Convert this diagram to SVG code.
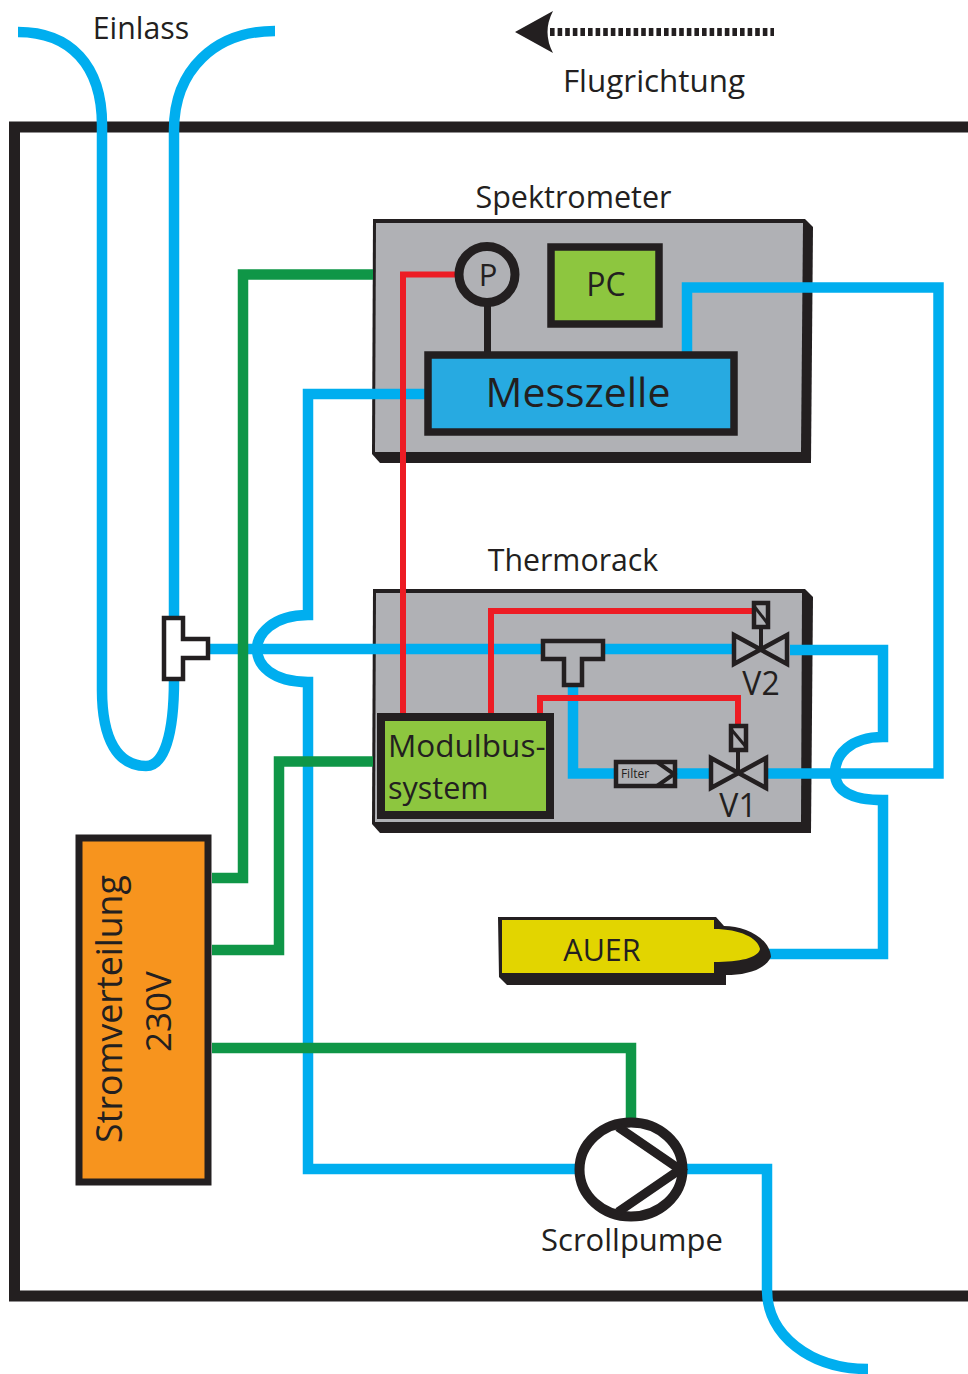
<svg xmlns="http://www.w3.org/2000/svg" width="968" height="1374" viewBox="0 0 968 1374">
<style>
text{font-family:"Open Sans","Noto Sans","Liberation Sans",sans-serif;fill:#231f20;font-size:31px;text-anchor:middle}
.w{fill:none;stroke-linejoin:miter}
.b{stroke:#00aeef;stroke-width:10.500}
.g{stroke:#0f9647;stroke-width:10.500}
.r{stroke:#ed1c24;stroke-width:6}
.k{stroke:#231f20;stroke-width:4.500;fill:#b0b1b5}
.d{fill:#231f20}
.h{fill:#b0b1b5}
</style>
<rect width="968" height="1374" fill="#fff"/>
<g id="frame"><path class="w" d="M968,127H14.500V1296H968" stroke="#231f20" stroke-width="11"/></g>
<g id="spektrometer">
<polygon class="d" points="373,219 805,219 813,227 811,463 380,463 372,454"/>
<polygon class="h" points="376,223 803,223 801,452 375,452"/>
</g>
<g id="thermorack">
<polygon class="d" points="373,589 805,589 813,597 811,833 380,833 372,824"/>
<polygon class="h" points="376,593 802,593 801,822 375,822"/>
</g>
<g id="connectors">
<path class="w b" d="M18,32C70,32 102,65 102,125V690"/>
<path class="w b" d="M102,690C102,740 118,766 146,766C164,766 174,735 174,680"/>
<path class="w b" d="M275,31C215,31 174,70 174,130V620"/>
<path class="w b" d="M208,649H735"/>
<path class="w b" d="M425,394H308V615C272,615 257,635 257,649C257,665 272,682 308,682V1169H578"/>
<path class="w b" d="M686,1169H767V1290C767,1335 810,1369 868,1369"/>
<path class="w b" d="M790,650H883V737C850,737 835,755 835,773C835,790 850,800 883,800V954H765"/>
<path class="w b" d="M573,687V773.500H710"/>
<path class="w b" d="M767,773.500H938.500V287.500H687V352"/>
<path class="w g" d="M373,274.500H243V878H212"/>
<path class="w g" d="M373,761.500H279V950H212"/>
<path class="w g" d="M212,1048H631V1122"/>
<path class="w r" d="M403,715V274.500H456"/>
<path class="w r" d="M491,715V611H753"/>
<path class="w r" d="M540,715V698H738V725"/>
<path class="w" d="M487.500,300V352" stroke="#231f20" stroke-width="7"/>
<path class="w" d="M550,32H774" stroke="#231f20" stroke-width="8" stroke-dasharray="4.600 3"/>
</g>
<g id="arrow"><path class="d" d="M515,32L553,11Q542,32 553,53Z"/></g>
<g id="einlass-t"><path d="M164,618H183V639H208V658H183V679H164Z" fill="#fff" stroke="#231f20" stroke-width="4.500"/></g>
<g id="drucksensor"><circle cx="487" cy="274.500" r="28" fill="#b0b1b5" stroke="#231f20" stroke-width="9"/><text x="488" y="286">P</text></g>
<g id="pc"><rect x="551" y="247" width="108" height="77" fill="#8dc63f" stroke="#231f20" stroke-width="7.500"/><text x="606" y="296" style="font-size:32px">PC</text></g>
<g id="messzelle"><rect x="428" y="355" width="306" height="77" fill="#27aae1" stroke="#231f20" stroke-width="7.500"/><text x="578" y="407" style="font-size:41px">Messzelle</text></g>
<g id="modulbus"><rect x="381" y="717" width="169" height="98" fill="#8dc63f" stroke="#231f20" stroke-width="8"/><text x="388" y="757" style="text-anchor:start;font-size:31.500px">Modulbus-</text><text x="388" y="799" style="text-anchor:start;font-size:30.500px">system</text></g>
<g id="t-stueck"><path class="k" d="M543,641H603V659H582V685H564V659H543Z"/></g>
<g id="v2">
<path class="k" d="M734,635L787,664V635L734,664Z"/>
<path d="M761,649V627" stroke="#231f20" stroke-width="4"/>
<rect class="k" x="754" y="603" width="14" height="24"/><path d="M754,606L768,624" stroke="#231f20" stroke-width="3"/>
<text x="761" y="695" style="font-size:32px">V2</text>
</g>
<g id="v1">
<path class="k" d="M711,758L766,788V758L711,788Z"/>
<path d="M738,773V750" stroke="#231f20" stroke-width="4"/>
<rect class="k" x="731" y="726" width="15" height="24"/><path d="M731,729L746,747" stroke="#231f20" stroke-width="3"/>
<text x="738" y="817" style="font-size:32px">V1</text>
</g>
<g id="filter">
<rect class="k" x="616" y="762" width="59" height="24"/>
<path class="w" d="M657,762L674,774L657,786" stroke="#231f20" stroke-width="4"/>
<text x="635" y="778" style="font-size:12px">Filter</text>
</g>
<g id="auer">
<path class="d" d="M498,917H716L724,926C745,926 770,938 771,957C765,970 745,975 726,975V985H507L499,977Z"/>
<path d="M502,920H714V929C740,929 758,938 760,949C758,958 740,962 714,962V973H502Z" fill="#e2d500"/>
<text x="602" y="961" style="font-size:30.500px">AUER</text>
</g>
<g id="stromverteilung"><rect x="79" y="838" width="129" height="344" fill="#f7941e" stroke="#231f20" stroke-width="7"/>
<text transform="translate(122,1009) rotate(-90)" style="font-size:35.700px">Stromverteilung</text>
<text transform="translate(171,1011.500) rotate(-90)" style="font-size:35px">230V</text></g>
<g id="pumpe"><ellipse cx="631" cy="1169.500" rx="51.500" ry="47" fill="#fff" stroke="#231f20" stroke-width="10"/>
<path class="w" d="M618,1127L680,1169.500L618,1212" stroke="#231f20" stroke-width="9"/>
<text x="632" y="1251">Scrollpumpe</text></g>
<g id="labels">
<text x="141" y="39" style="font-size:30.300px">Einlass</text>
<text x="654" y="92" style="font-size:31.400px">Flugrichtung</text>
<text x="573.500" y="208" style="font-size:30.500px">Spektrometer</text>
<text x="573" y="571" style="font-size:30.300px">Thermorack</text>
</g>
</svg>
